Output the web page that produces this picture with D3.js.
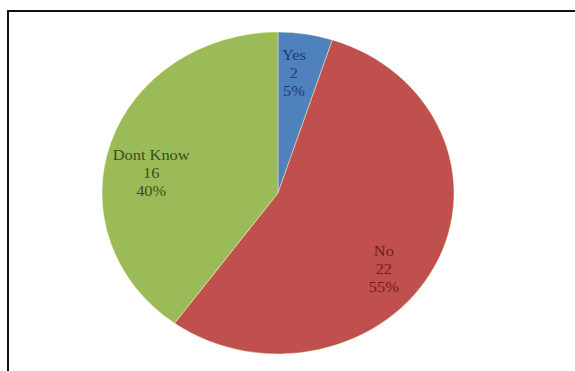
<!DOCTYPE html>
<html>
<head>
<meta charset="utf-8">
<script src="https://cdn.jsdelivr.net/npm/d3@7"></script>
<style>
html,body{margin:0;padding:0;background:#fff;}
svg{display:block;}
</style>
</head>
<body>
<svg id="chart" width="575" height="371"></svg>
<script>
// Data
const categories = ["Yes", "No", "Dont Know"];
const counts = [2, 22, 16];
const percentLabels = ["5%", "55%", "40%"];
const sliceColors = ["#4F81BD", "#C0504D", "#9BBB59"];
const textColors = ["#1c3a78", "#6e1d1b", "#34501a"];

const W = 575, H = 371;
const svg = d3.select("#chart");

// frame (top and left edges visible)
svg.append("path")
  .attr("d", `M8,${H} V11 H${W}`)
  .attr("fill", "none")
  .attr("stroke", "#111")
  .attr("stroke-width", 2);

const cx = 278, cy = 193, rx = 176, ry = 161;
const g = svg.append("g")
  .attr("transform", `translate(${cx},${cy}) scale(${rx / ry},1)`);

const data = categories.map((c, i) => ({cat: c, value: counts[i], pct: percentLabels[i], color: sliceColors[i], tcolor: textColors[i]}));

const pie = d3.pie().sort(null).value(d => d.value);
const arcs = pie(data);
const arc = d3.arc().innerRadius(0).outerRadius(ry);
const labelArc = d3.arc().innerRadius(122).outerRadius(122);

g.selectAll("path.slice")
  .data(arcs)
  .join("path")
  .attr("class", "slice")
  .attr("d", arc)
  .attr("fill", d => d.data.color)
  .attr("stroke", "rgba(255,255,200,0.5)")
  .attr("stroke-width", 0.8);

// layout nudges (pixel offsets for Excel-style best-fit placement)
const nudge = {"Yes": [-5, 0], "No": [-13, 20], "Dont Know": [0, 17]};
const lineH = 18;

const labels = g.selectAll("g.lbl")
  .data(arcs)
  .join("g")
  .attr("class", "lbl")
  .attr("transform", d => {
    const [x, y] = labelArc.centroid(d);
    const n = nudge[d.data.cat] || [0, 0];
    return `translate(${x + n[0] * ry / rx},${y + n[1]})`;
  });

labels.each(function(d) {
  const lines = [d.data.cat, String(d.data.value), d.data.pct];
  const t = d3.select(this).append("text")
    .attr("text-anchor", "middle")
    .attr("font-family", "'Liberation Serif','Times New Roman',serif")
    .attr("font-size", 15)
    .attr("fill", d.data.tcolor);
  lines.forEach((s, i) => {
    t.append("tspan")
      .attr("x", 0)
      .attr("y", (i - 1) * lineH)
      .attr("dy", "0.35em")
      .text(s);
  });
});
</script>
</body>
</html>
